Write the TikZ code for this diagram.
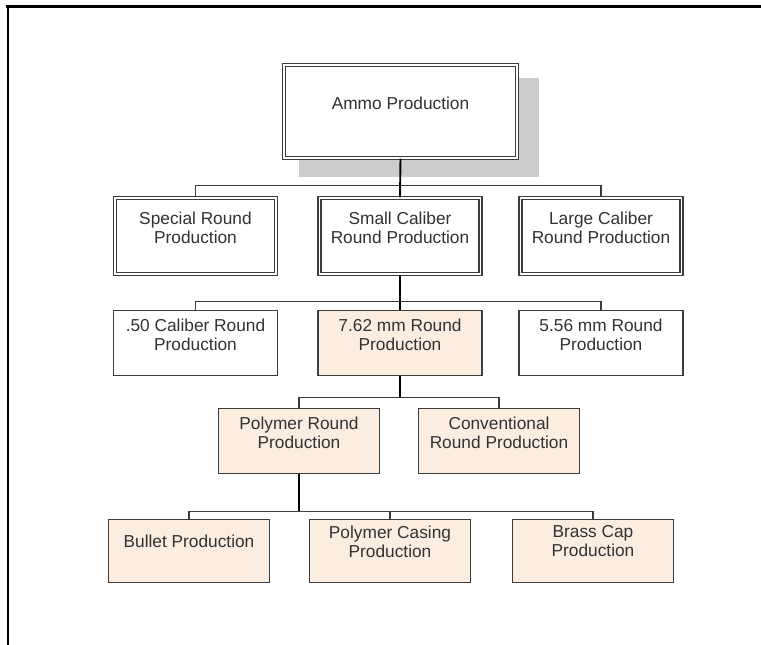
\documentclass[tikz,border=0pt]{standalone}
\usepackage{fontspec}
\setmainfont{Liberation Sans}
\usepackage{tikz}
\usetikzlibrary{positioning}
\usetikzlibrary{backgrounds}
\definecolor{boxline}{RGB}{60,60,60}
\definecolor{busgray}{RGB}{60,60,60}
\definecolor{textgray}{RGB}{50,50,50}
\definecolor{peach}{RGB}{252,237,225}
\definecolor{shadowgray}{RGB}{204,204,204}
\tikzset{
    dbox/.style = {draw=boxline,double=white,double distance=1.8pt,line width=1.2pt,fill=white,inner sep=0},
    sbox/.style = {draw=boxline,line width=1.6pt,inner sep=0},
    lvlone/.style = {dbox,minimum width=161pt,minimum height=76pt},
    lvltwo/.style = {sbox,minimum width=164pt,minimum height=65pt},
    lvllow/.style = {sbox,fill=peach,minimum width=161pt,minimum height=65pt},
    txt/.style = {align=center,text=textgray,inner sep=0,font=\fontsize{17.3}{19}\selectfont},
    trunk/.style = {line width=1.9pt,black},
    bus/.style = {line width=1.2pt,busgray},
    frame/.style = {line width=2.8pt,black}
}
\begin{document}
\begin{tikzpicture}[x=1pt,y=-1pt]
        \useasboundingbox (0,0) rectangle (761,645);
        % Frame
        \draw[frame] (6,6.5) -- (761,6.5);
        \draw[frame] (8,5) -- (8,645);
        % Top
        \node[dbox,minimum width=233pt,minimum height=93pt] (ammo) at (400.5,111.5) {};
        \node[txt,below=32pt of ammo.north] (ammo-t) {Ammo Production};
        \begin{scope}[on background layer]
            \fill[shadowgray] ([shift={(16,18)}]ammo.south west) rectangle ([shift={(21,14)}]ammo.north east);
        \end{scope}
        % Round types
        \node[lvlone] (special) at (195.5,236) {};
        \node[lvlone] (small) at (400,236) {};
        \node[lvlone] (large) at (601,236) {};
        \node[txt,below=14pt of special.north] (special-t) {Special Round\\Production};
        \node[txt,below=14pt of small.north] (small-t) {Small Caliber\\Round Production};
        \node[txt,below=14pt of large.north] (large-t) {Large Caliber\\Round Production};
        % Calibers
        \node[lvltwo] (r50) at (195.5,343) {};
        \node[lvltwo,fill=peach] (r762) at (400,343) {};
        \node[lvltwo] (r556) at (601,343) {};
        \node[txt,below=9pt of r50.north] (r50-t) {.50 Caliber Round\\Production};
        \node[txt,below=9pt of r762.north] (r762-t) {7.62 mm Round\\Production};
        \node[txt,below=9pt of r556.north] (r556-t) {5.56 mm Round\\Production};
        % Methods
        \node[lvllow] (polyr) at (299,441) {};
        \node[lvllow] (conv) at (499,441) {};
        \node[txt,below=9pt of polyr.north] (polyr-t) {Polymer Round\\Production};
        \node[txt,below=9pt of conv.north] (conv-t) {Conventional\\Round Production};
        % Parts
        \node[lvllow,minimum height=63pt] (bullet) at (189,551) {};
        \node[lvllow,minimum height=63pt] (casing) at (390,551) {};
        \node[lvllow,minimum height=63pt] (brass) at (593,551) {};
        \node[txt,below=16pt of bullet.north] (bullet-t) {Bullet Production};
        \node[txt,below=7pt of casing.north] (casing-t) {Polymer Casing\\Production};
        \node[txt,below=7pt of brass.north] (brass-t) {Brass Cap\\Production};
        % Connectors
        \path (ammo.south) ++(0,27) coordinate (bus1);
        \path (small.south) ++(0,27) coordinate (bus2);
        \path (r762.south) ++(0,21) coordinate (bus3);
        \path (polyr.south) ++(0,37) coordinate (bus4);
        \draw[trunk] (ammo.south) -- (small.north);
        \draw[bus] (special.north) |- (bus1) -| (large.north);
        \draw[trunk] (small.south) -- (r762.north);
        \draw[bus] (r50.north) |- (bus2) -| (r556.north);
        \draw[trunk] (r762.south) -- (bus3);
        \draw[bus] (polyr.north) |- (bus3) -| (conv.north);
        \draw[trunk] (polyr.south) -- (bus4);
        \draw[bus] (bullet.north) |- (bus4) -| (brass.north);
        \draw[bus] (casing.north) -- (casing.north |- bus4);
\end{tikzpicture}
\end{document}
